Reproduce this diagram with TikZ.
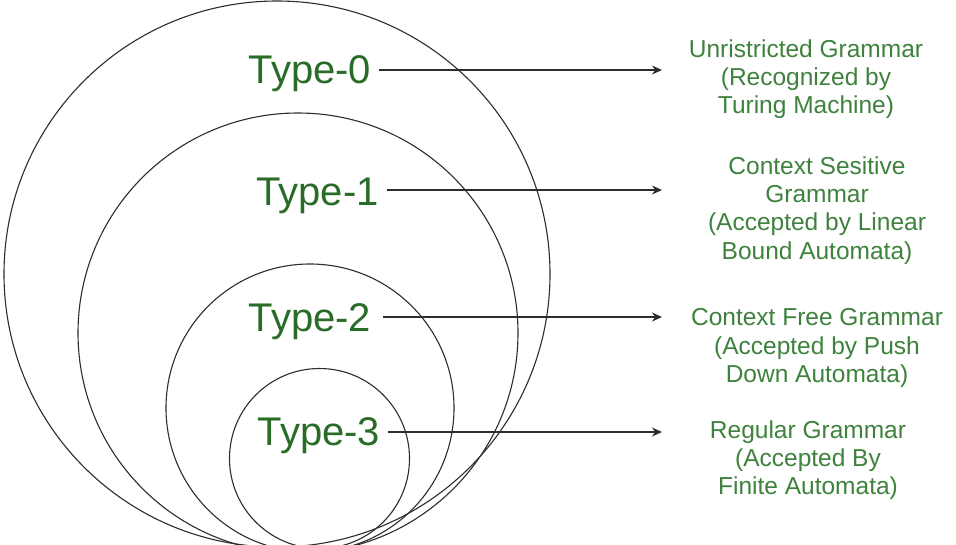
\documentclass[tikz,border=0pt]{standalone}
\usepackage{fontspec}
\setmainfont{Liberation Sans}
\usetikzlibrary{arrows.meta}
\definecolor{typegreen}{RGB}{40,108,40}
\definecolor{descgreen}{RGB}{62,130,62}
\definecolor{linegray}{RGB}{45,45,45}
\begin{document}
\begin{tikzpicture}[x=1pt,y=-1pt,
  ring/.style={draw=linegray, line width=1.1pt},
  typelabel/.style={text=typegreen, font=\fontsize{40}{48}\selectfont, inner xsep=8pt, inner ysep=0pt, anchor=base},
  desc/.style={text=descgreen, font=\fontsize{24.5}{28.3}\selectfont, align=center, inner sep=0pt, anchor=north},
  conn/.style={draw=linegray, line width=1.4pt, -{Stealth[length=10pt,width=9pt]}}]
\useasboundingbox (0,0) rectangle (956,544);
\fill[white] (0,0) rectangle (956,544);
\begin{scope}
  \clip (0,0) rectangle (956,544);
  \draw[ring] (277,274) circle[radius=273pt];
  \draw[ring] (298,333) circle[radius=220pt];
  \draw[ring] (310,408) circle[radius=144pt];
  \draw[ring] (319.5,458.5) circle[radius=90pt];
\end{scope}
\node[typelabel] (t0) at (310,83) {Type-0};
\node[typelabel] (t1) at (317.5,205) {Type-1};
\node[typelabel, inner xsep=12pt] (t2) at (310,331) {Type-2};
\node[typelabel] (t3) at (319,445) {Type-3};
\coordinate (a0) at (662,70);
\coordinate (a1) at (662,190);
\coordinate (a2) at (662,317);
\coordinate (a3) at (662,432);
\draw[conn] (t0.east |- a0) -- (a0);
\draw[conn] (t1.east |- a1) -- (a1);
\draw[conn] (t2.east |- a2) -- (a2);
\draw[conn] (t3.east |- a3) -- (a3);
\node[desc] (d0) at (806,39.4) {Unristricted Grammar\\(Recognized by\\Turing Machine)};
\node[desc] (d1) at (817,156.4) {Context Sesitive\\Grammar\\(Accepted by Linear\\Bound Automata)};
\node[desc] (d2) at (817,308.4) {Context Free Grammar\\(Accepted by Push\\Down Automata)};
\node[desc] (d3) at (808,420.4) {Regular Grammar\\(Accepted By\\Finite Automata)};
\end{tikzpicture}
\end{document}
